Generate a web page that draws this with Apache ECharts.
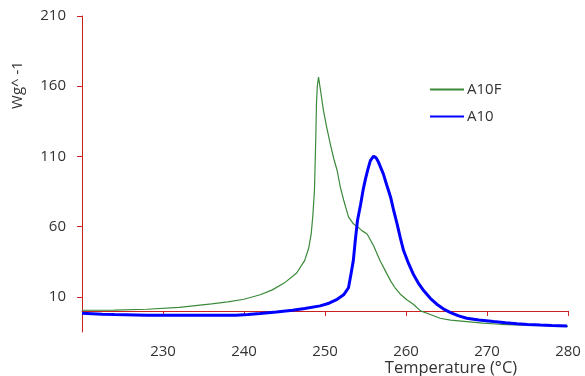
<!DOCTYPE html>
<html>
<head>
<meta charset="utf-8">
<script src="https://cdn.jsdelivr.net/npm/echarts@6/dist/echarts.min.js"></script>
<style>html,body{margin:0;padding:0;background:#fff}#c{width:585px;height:376px}</style>
</head>
<body>
<div id="c"></div>
<script>
const seriesNames = ['A10F', 'A10'];
const a10fTemp = [220, 224, 228, 232, 236, 238, 240, 242, 243.5, 245, 246.5, 247.5, 248, 248.3, 248.5, 248.7, 248.85, 248.95, 249.05, 249.2, 249.5, 249.8, 250.2, 250.65, 251.1, 251.5, 251.9, 252.3, 252.9, 253.5, 254.1, 254.6, 255.2, 256.0, 256.8, 257.5, 258.1, 258.7, 259.3, 260.1, 260.9, 261.8, 263, 264.2, 265.5, 267.5, 269.5, 271.6, 273.5, 275.7, 278, 280];
const a10fValue = [0.5, 0.6, 1.2, 2.6, 5, 6.5, 8.3, 11.5, 15, 20, 27, 36, 45, 55, 68, 86, 120, 148, 160, 166.5, 155, 143, 131, 119, 108, 100, 88, 79, 67, 62, 59.5, 57, 54.8, 46.4, 35.7, 28, 21.4, 16, 11.9, 8, 4.8, 0, -2.5, -5.2, -6.5, -7.6, -8.7, -9.5, -9.9, -10.2, -10.6, -11];
const a10Temp = [220, 222.5, 224, 228, 232, 236, 239, 240.5, 242, 244, 246, 247.5, 249.4, 250.5, 251.5, 252.3, 252.9, 253.2, 253.5, 253.7, 254.0, 254.4, 254.7, 255, 255.3, 255.6, 256, 256.3, 256.6, 257.2, 257.6, 258.1, 258.5, 258.9, 259.3, 259.7, 260.3, 260.9, 261.5, 262.2, 263, 263.8, 264.6, 265.5, 266.5, 267.5, 269, 270.8, 272.3, 273.7, 275, 276.6, 278, 279.9];
const a10Value = [-1.6, -2.4, -2.6, -3.1, -3.1, -3.1, -3.1, -2.6, -1.9, -0.8, 0.5, 1.7, 3.6, 5.5, 8.3, 11.5, 16.5, 26, 36, 48, 64, 76, 86, 94, 101, 107, 110.2, 109, 106, 97.6, 90, 81, 71, 62, 52, 43, 34, 26.2, 20, 14.3, 9, 4.8, 1.5, -1.2, -3.5, -5.2, -6.5, -7.6, -8.4, -9.1, -9.6, -10, -10.3, -10.7];
const xTickLabels = [230, 240, 250, 260, 270, 280];
const yTickLabels = [10, 60, 110, 160, 210];
const xTitle = 'Temperature (°C)';
const yTitle = 'Wg^ -1';

const FONT = 'Open Sans';
const axisRed = '#cc2020';
const textColor = '#333333';

const chart = echarts.init(document.getElementById('c'), null, {renderer: 'canvas'});
chart.setOption({
  animation: false,
  backgroundColor: '#ffffff',
  textStyle: {fontFamily: FONT},
  grid: {left: 82, right: 17, top: 16, bottom: 44, containLabel: false, outerBoundsMode: 'none'},
  legend: {
    orient: 'vertical', left: 429, top: 82, padding: 0, itemWidth: 34, itemHeight: 14, itemGap: 12,
    data: seriesNames,
    itemStyle: {opacity: 0},
    textStyle: {fontFamily: FONT, fontSize: 15, color: textColor, padding: [0, 0, 0, -2]}
  },
  xAxis: [{
    type: 'value', min: 220, max: 280, interval: 10,
    axisLine: {onZero: true, lineStyle: {color: axisRed, width: 1}},
    axisTick: {show: true, length: 5, lineStyle: {color: axisRed}},
    axisLabel: {show: false},
    splitLine: {show: false}
  }, {
    type: 'value', min: 220, max: 280, interval: 10, position: 'bottom',
    axisLine: {show: false, onZero: false},
    axisTick: {show: false},
    axisLabel: {show: true, customValues: xTickLabels, margin: 12, fontFamily: FONT, fontSize: 15, color: textColor},
    splitLine: {show: false}
  }],
  yAxis: {
    type: 'value', min: -15, max: 210,
    axisLine: {show: true, onZero: false, lineStyle: {color: axisRed, width: 1}},
    axisTick: {show: true, length: 5, customValues: yTickLabels, lineStyle: {color: axisRed}},
    axisLabel: {customValues: yTickLabels, margin: 16, fontFamily: FONT, fontSize: 15, color: textColor},
    splitLine: {show: false}
  },
  graphic: [
    {type: 'text', x: 18, y: 85, rotation: Math.PI / 2,
     style: {text: yTitle, align: 'center', verticalAlign: 'middle', font: '15px "Open Sans"', fill: textColor}},
    {type: 'text', x: 451, y: 368,
     style: {text: xTitle, align: 'center', verticalAlign: 'middle', font: '16.5px "Open Sans"', fill: textColor}}
  ],
  series: [{
    name: seriesNames[0], type: 'line', xAxisIndex: 0, symbol: 'none', smooth: false,
    data: a10fTemp.map((t, i) => [t, a10fValue[i]]),
    lineStyle: {color: '#3a8a3a', width: 1.2}, itemStyle: {color: '#3a8a3a'}
  }, {
    name: seriesNames[1], type: 'line', xAxisIndex: 0, symbol: 'none', smooth: false,
    data: a10Temp.map((t, i) => [t, a10Value[i]]),
    lineStyle: {color: '#0000ff', width: 3}, itemStyle: {color: '#0000ff'}
  }]
});
</script>
</body>
</html>
